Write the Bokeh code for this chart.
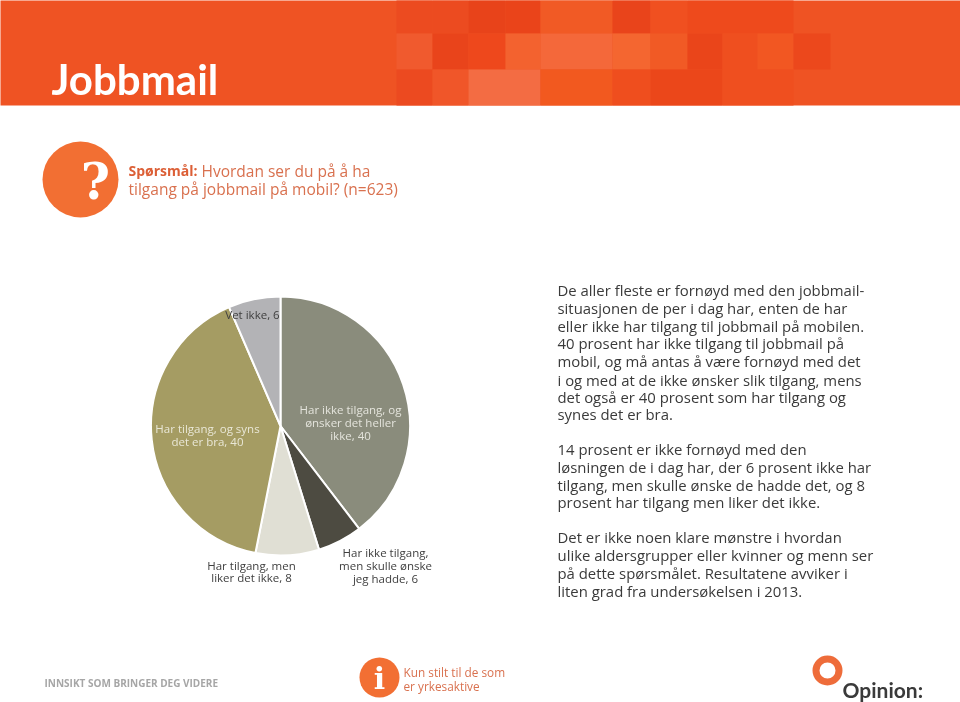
from math import pi
from bokeh.plotting import figure
from bokeh.models import ColumnDataSource
from bokeh.core.properties import value
from bokeh.embed import file_html
from bokeh.resources import INLINE

W, H = 960, 702
FONT = "Open Sans"

categories = ["Har ikke tilgang, og ønsker det heller ikke", "Har ikke tilgang, men skulle ønske jeg hadde",
              "Har tilgang, men liker det ikke", "Har tilgang, og syns det er bra", "Vet ikke"]
values = [39.6, 5.6, 7.9, 40.4, 6.5]
colors = ["#8A8C7C", "#4D4B41", "#E0DFD4", "#A59C63", "#B3B3B6"]

# texts
title = "Jobbmail"
question_bold = "Spørsmål:"
question_1 = "Hvordan ser du på å ha"
question_2 = "tilgang på jobbmail på mobil? (n=623)"
para_lines = [
    "De aller fleste er fornøyd med den jobbmail-", "situasjonen de per i dag har, enten de har",
    "eller ikke har tilgang til jobbmail på mobilen.", "40 prosent har ikke tilgang til jobbmail på",
    "mobil, og må antas å være fornøyd med det", "i og med at de ikke ønsker slik tilgang, mens",
    "det også er 40 prosent som har tilgang og", "synes det er bra.",
    "14 prosent er ikke fornøyd med den", "løsningen de i dag har, der 6 prosent ikke har",
    "tilgang, men skulle ønske de hadde det, og 8", "prosent har tilgang men liker det ikke.",
    "Det er ikke noen klare mønstre i hvordan", "ulike aldersgrupper eller kvinner og menn ser",
    "på dette spørsmålet. Resultatene avviker i", "liten grad fra undersøkelsen i 2013.",
]
para_y = [289, 307, 325, 342, 360, 379, 396, 413, 448, 466, 484, 501, 536, 554, 572, 590]

# header mosaic: x0, x1, y0, colour
m_x0 = [396,432,468,505,540,612,650,687, 396,432,468,505,540,612,650,687,722,757,793, 396,432,468,540,612,650,722]
m_x1 = [432,468,505,540,612,650,687,793, 432,468,505,540,612,650,687,722,757,793,830, 432,468,540,612,650,722,793]
m_y0 = [0]*8 + [33]*11 + [69]*7
m_c = ["#EC4B20","#EC4B20","#E8431A","#EA441A","#F15A25","#E9441B","#F05020","#EE4A1C",
       "#F05A2E","#E9441B","#EE481C","#F3622F","#F4683A","#F46630","#F15A25","#EA451A","#EF4F1F","#F25722","#EC481C",
       "#EC4A20","#F05629","#F36C43","#F2591F","#EF4E1E","#EB471A","#EF4F1F"]
m_h = {0: 33, 33: 36, 69: 36}

p = figure(width=W, height=H, x_range=(0, W), y_range=(0, H), toolbar_location=None,
           output_backend="svg", min_border=0, match_aspect=False)
p.styles = {"position": "fixed", "left": "0", "top": "0"}
p.axis.visible = False
p.grid.visible = False
p.outline_line_color = None
p.background_fill_color = "white"
p.border_fill_color = "white"

def Y(py):
    return H - py

def txt(x, y, s, size, color, style="normal", align="left", font=FONT):
    p.text([x], [Y(y)], text=[s], text_font=value(font), text_font_size=f"{size}px",
           text_color=color, text_font_style=style, text_align=align, text_baseline="middle")

# header
p.quad(left=[-5], right=[W + 5], top=[Y(-5)], bottom=[Y(105)], fill_color="#EF5323", line_color=None)
p.quad(left=m_x0, right=m_x1, top=[Y(v if v else -5) for v in m_y0], bottom=[Y(v + m_h[v]) for v in m_y0],
       fill_color=m_c, line_color=None)
txt(51, 78, title, 42, "white", "bold", font="Lato")

# question
p.circle([80], [Y(179)], radius=38, fill_color="#F26F33", line_color=None)
txt(95, 181, "?", 50, "white", "bold", "center", "DejaVu Serif")
txt(128, 170, question_bold, 14, "#DC5F36", "bold")
txt(201, 170, question_1, 15.5, "#D9714F")
txt(128, 188, question_2, 15.5, "#D9714F")

# pie, clockwise from 12 o'clock
total = sum(values)
start, end, run = [], [], 0
for v in values:
    start.append(pi / 2 - 2 * pi * run / total)
    run += v
    end.append(pi / 2 - 2 * pi * run / total)
src = ColumnDataSource(dict(start=start, end=end, color=colors, cat=categories, val=values))
p.wedge(x=280, y=Y(425.5), radius=129.5, start_angle="start", end_angle="end", direction="clock",
        fill_color="color", line_color="white", line_width=2, source=src)

PL = 11.5
for s, y in zip(["Har ikke tilgang, og", "ønsker det heller", "ikke, 40"], [409, 422, 435]):
    txt(350, y, s, PL, "#E4E4DC", align="center")
for s, y in zip(["Har tilgang, og syns", "det er bra, 40"], [428, 441]):
    txt(207, y, s, PL, "#E9E7D6", align="center")
for s, y in zip(["Har tilgang, men", "liker det ikke, 8"], [565, 577]):
    txt(251, y, s, PL, "#404040", align="center")
for s, y in zip(["Har ikke tilgang,", "men skulle ønske", "jeg hadde, 6"], [552, 565, 578]):
    txt(385, y, s, PL, "#404040", align="center")
txt(252, 314, "Vet ikke, 6", PL, "#404040", align="center")

# paragraph
for s, y in zip(para_lines, para_y):
    txt(557, y, s, 14.9, "#3A3A3A")

# footer
txt(44, 682, "INNSIKT SOM BRINGER DEG VIDERE", 10, "#A6A6A6", "bold")
p.circle([379], [Y(677)], radius=20, fill_color="#F26F33", line_color=None)
txt(379, 678, "i", 30, "white", "bold", "center", "DejaVu Serif")
txt(403, 671, "Kun stilt til de som", 11.8, "#D9714F")
txt(403, 685, "er yrkesaktive", 11.8, "#D9714F")
p.circle([827], [Y(670)], radius=11.5, fill_color=None, line_color="#EE6C3A", line_width=7)
txt(842, 689, "Opinion:", 21, "#3A3A3A", "bold", font="Lato")

open("out.html", "w").write(file_html(p, INLINE))
